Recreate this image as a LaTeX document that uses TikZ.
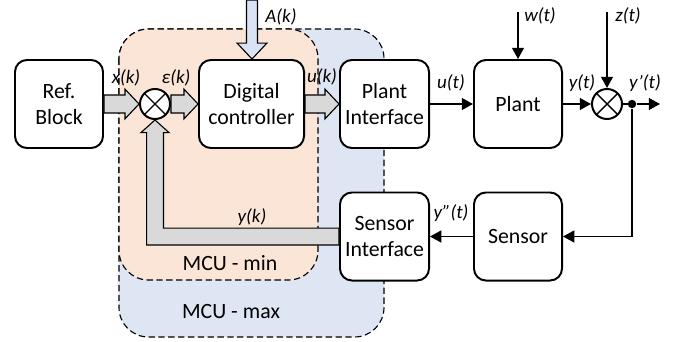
\documentclass[tikz,border=0pt]{standalone}
\usepackage{fontspec}
\setmainfont{Carlito}
\usepackage{tikz}
\usetikzlibrary{arrows.meta, calc}
\definecolor{mcumin}{RGB}{251,229,214}
\definecolor{mcumax}{RGB}{222,230,243}
\definecolor{fatgray}{RGB}{217,217,217}
\definecolor{fatblue}{RGB}{218,227,243}

% wide horizontal arrow between two anchors
\newcommand{\fatright}[2]{%
  \draw[fatarrow] let \p1=(#1), \p2=(#2) in
    (\x1,\y1+6.4pt) -- (\x2-10pt,\y1+6.4pt) -- (\x2-10pt,\y1+10.6pt)
    -- (\x2,\y1) -- (\x2-10pt,\y1-10.6pt) -- (\x2-10pt,\y1-6.4pt)
    -- (\x1,\y1-6.4pt) -- cycle;}

\begin{document}
\begin{tikzpicture}[
    x=0.025cm, y=-0.025cm,
    block/.style={
        rectangle, rounded corners=8.5pt,
        minimum height=2.2cm,
        inner sep=0pt, align=center,
        font=\fontsize{15.5pt}{18pt}\selectfont,
        draw, line width=1.4pt, fill=white
    },
    summer/.style={
        circle, draw, line width=1.4pt, fill=white,
        minimum size=0.75cm, inner sep=0pt,
        path picture={\draw[line width=1pt]
            (path picture bounding box.north west) -- (path picture bounding box.south east)
            (path picture bounding box.north east) -- (path picture bounding box.south west);}
    },
    region/.style={
        rounded corners=21pt, draw, line width=0.8pt,
        dash pattern=on 4.5pt off 2.5pt
    },
    fatarrow/.style={draw, line width=0.8pt, fill=fatgray},
    sig/.style={-{Triangle[length=8pt, width=8.5pt]}, line width=1pt},
    lbl/.style={font=\fontsize{13.5pt}{16pt}\selectfont\itshape, inner sep=0pt},
    mcu/.style={font=\fontsize{15.5pt}{18pt}\selectfont, inner sep=0pt}
]
\useasboundingbox (0,0) rectangle (674,341);

% MCU regions
\draw[region, fill=mcumax] (119,29) rectangle (384,337);
\draw[region, fill=mcumin] (119,29) rectangle (318,280);
\node[mcu] at (230,263) {MCU - min};
\node[mcu] at (231,312) {MCU - max};

% blocks
\node[block, minimum width=2.2cm] (ref) at (59,104) {Ref.\\Block};
\node[summer] (sumA) at (155,104) {};
\node[block, minimum width=2.625cm] (ctrl) at (251.5,104) {Digital\\controller};
\node[block, minimum width=2.225cm] (plif) at (384.5,104) {Plant\\Interface};
\node[block, minimum width=2.2cm] (plant) at (518,104) {Plant};
\node[summer] (sumB) at (607,104) {};
\node[circle, fill, minimum size=6pt, inner sep=0pt] (tap) at (632,104) {};
\node[block, minimum width=2.225cm] (sensif) at (384.5,236.5) {Sensor\\Interface};
\node[block, minimum width=2.2cm] (sensor) at (518,236.5) {Sensor};

\coordinate (atop) at (252,0);
\coordinate (wtop) at (518,12);
\coordinate (ztop) at (607,12);
\coordinate (out) at (660,104);

% wide (digital) arrows
\fatright{ref.east}{sumA.west}
\fatright{sumA.east}{ctrl.west}
\fatright{ctrl.east}{plif.west}
\draw[fatarrow, fill=fatblue] let \p1=(atop), \p2=(ctrl.north) in
    (\x1-3.9pt,\y1) -- (\x1-3.9pt,\y2+11.3pt) -- (\x1-10.6pt,\y2+11.3pt)
    -- (\x1,\y2) -- (\x1+10.6pt,\y2+11.3pt) -- (\x1+3.9pt,\y2+11.3pt)
    -- (\x1+3.9pt,\y1) -- cycle;
\draw[fatarrow] let \p1=(sensif.west), \p2=(sumA.south) in
    (\x1,\y1+6pt) -- (\x2+6pt,\y1+6pt) -- (\x2+6pt,\y2-9pt)
    -- (\x2+10pt,\y2-9pt) -- (\x2,\y2) -- (\x2-10pt,\y2-9pt)
    -- (\x2-6pt,\y2-9pt) -- (\x2-6pt,\y1-6pt) -- (\x1,\y1-6pt) -- cycle;

% analog signals
\foreach \a/\b in {plif/plant, plant/sumB, wtop/plant, ztop/sumB,
                   tap/out, sensor/sensif}{
    \draw[sig] (\a) -- (\b);
}
\draw[line width=1pt] (sumB) -- (tap);
\draw[sig] (tap) |- (sensor);

% labels
\node[lbl] at (126,78) {x(k)};
\node[lbl] at (176,78) {ε(k)};
\node[lbl] at (322,77) {u(k)};
\node[lbl] at (281,17) {A(k)};
\node[lbl] at (451,83) {u(t)};
\node[lbl] at (540,16) {w(t)};
\node[lbl] at (628,16) {z(t)};
\node[lbl] at (582,83) {y(t)};
\node[lbl] at (645,83) {y’(t)};
\node[lbl] at (451,213) {y”(t)};
\node[lbl] at (252,217) {y(k)};
\end{tikzpicture}
\end{document}
